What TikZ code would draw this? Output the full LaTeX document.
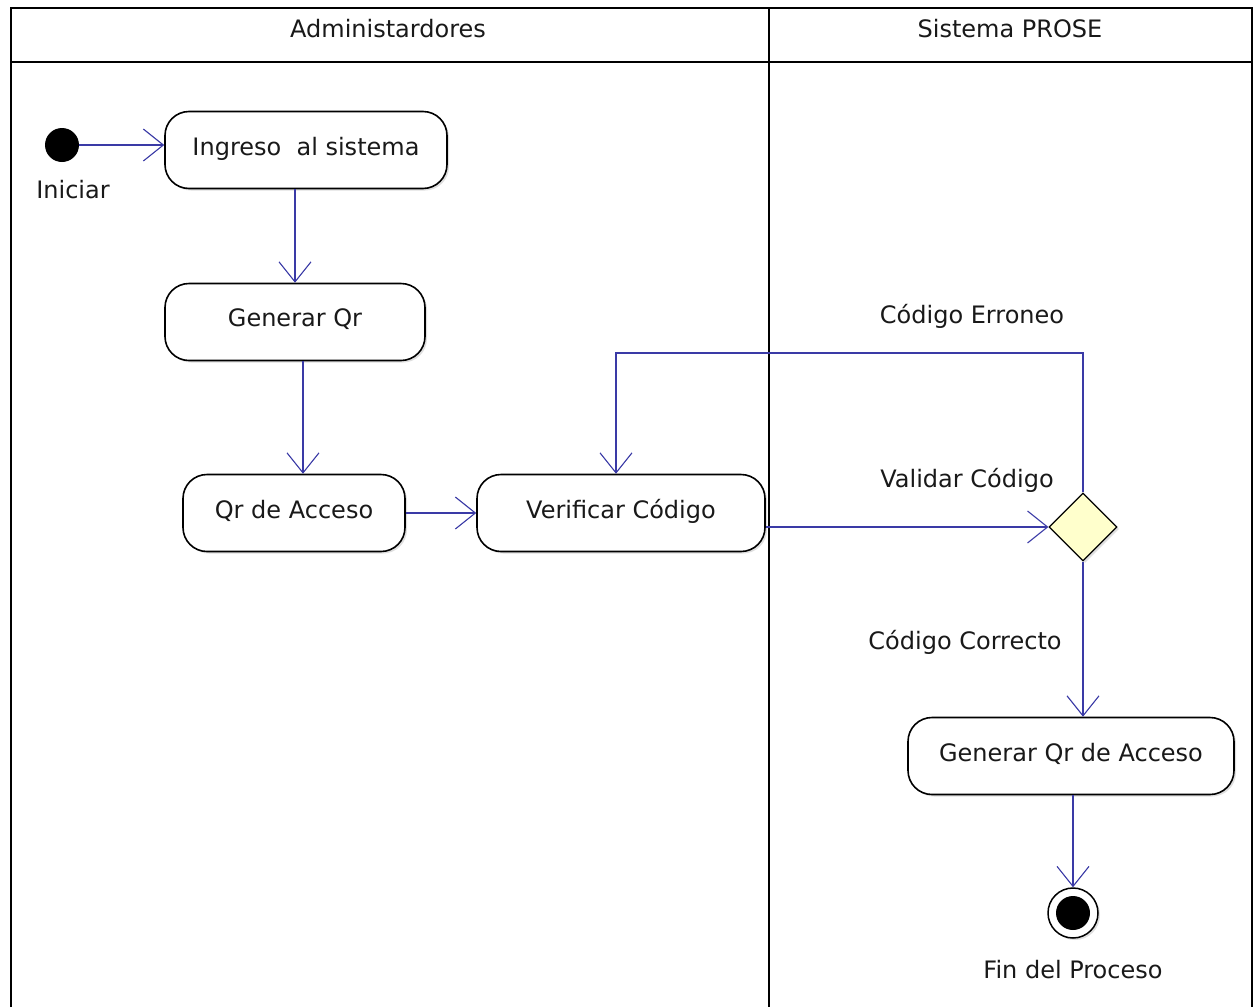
\documentclass[tikz,border=0pt]{standalone}
\usepackage{fontspec}
\setmainfont{DejaVu Sans}
\usetikzlibrary{arrows.meta,positioning,calc,shapes.geometric,shadows}
\definecolor{FlowBlue}{HTML}{3A3AA6}
\definecolor{DecisionFill}{HTML}{FFFFCC}

\tikzset{
  uml/.style={font=\fontsize{24}{28}\selectfont, text=black!90},
  activity/.style={uml, draw=black, line width=1.6pt, fill=white,
    rounded corners=24pt, minimum height=77pt, inner sep=0pt, text depth=8pt,
    drop shadow={shadow xshift=2pt, shadow yshift=-2pt, opacity=0.25}},
  decision/.style={diamond, draw=black, line width=1.2pt, fill=DecisionFill,
    minimum width=68pt, minimum height=68pt, inner sep=0pt,
    drop shadow={shadow xshift=2pt, shadow yshift=-2pt, opacity=0.25}},
  flow/.style={draw=FlowBlue, line width=1.3pt,
    -{Straight Barb[length=20pt, width=32pt, line width=1.1pt]}},
  lane/.style={draw=black, line width=1.8pt}
}

\begin{document}
\begin{tikzpicture}[x=1pt, y=-1pt]
  \useasboundingbox (0,0) rectangle (1256,1007);
  \fill[white] (0,0) rectangle (1256,1007);

  % swimlanes
  \draw[lane] (11,1007) -- (11,8) -- (1252,8) -- (1252,1007);
  \draw[lane] (11,62) -- (1252,62);
  \draw[lane] (769,8) -- (769,1007);
  \node[uml] (laneAdmin) at (388,29) {Administardores};
  \node[uml] (laneProse) at (1010,29) {Sistema PROSE};

  % start / end
  \node[circle, fill=black, minimum size=34pt, inner sep=0pt] (inicio) at (62,145) {};
  \node[uml] (inicioLbl) at (73,190) {Iniciar};
  \node[circle, draw=black, line width=1.5pt, fill=white, minimum size=50pt, inner sep=0pt,
    drop shadow={shadow xshift=2pt, shadow yshift=-2pt, opacity=0.25}] (fin) at (1073,913) {};
  \node[circle, fill=black, minimum size=34pt, inner sep=0pt] (finDot) at (fin) {};
  \node[uml] (finLbl) at (1073,970) {Fin del Proceso};

  % activities
  \node[activity, minimum width=282pt] (ingreso) at (306,150) {Ingreso\ \ al sistema};
  \node[activity, minimum width=260pt] (genQr) at (295,322) {Generar Qr};
  \node[activity, minimum width=222pt] (qrAcceso) at (294,513) {Qr de Acceso};
  \node[activity, minimum width=288pt] (verificar) at (621,513) {Verificar Código};
  \node[activity, minimum width=326pt] (genAcceso) at (1071,756) {Generar Qr de Acceso};
  \node[decision] (validar) at (1083,527) {};
  \coordinate (retorno) at (616,353);
  \coordinate (genQrOut) at ($(genQr.south)+(8,0)$);

  % labels
  \node[uml] (validarLbl) at (967,480) {Validar Código};
  \node[uml] (erroneoLbl) at (972,316) {Código Erroneo};
  \node[uml] (correctoLbl) at (965,642) {Código Correcto};

  % flows
  \draw[flow] (inicio) -- (inicio -| ingreso.west);
  \draw[flow] (genQr.north |- ingreso.south) -- (genQr.north);
  \draw[flow] (genQrOut) -- (genQrOut |- qrAcceso.north);
  \draw[flow] (qrAcceso.east) -- (verificar.west);
  \draw[flow] (validar.west -| verificar.east) -- (validar.west);
  \draw[flow] (validar.north) -- (validar.north |- retorno) -- (retorno) -- (retorno |- verificar.north);
  \draw[flow] (validar.south) -- (validar.south |- genAcceso.north);
  \draw[flow] (fin.north |- genAcceso.south) -- (fin.north);
\end{tikzpicture}
\end{document}
